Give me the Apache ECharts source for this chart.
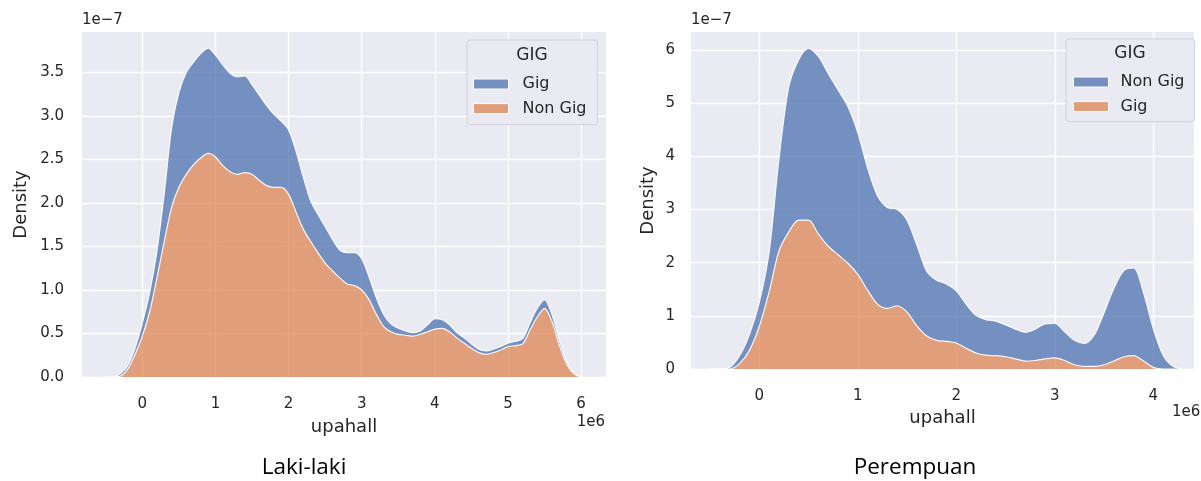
<!DOCTYPE html>
<html><head><meta charset="utf-8">
<script src="https://cdn.jsdelivr.net/npm/echarts@6/dist/echarts.min.js"></script>
<style>html,body{margin:0;padding:0;background:#fff;}#c{width:1201px;height:481px;}</style>
</head><body><div id="c"></div>
<script>
// ---- Data (x in units of 1e6, density in units of 1e-7) ----
// Left panel: Laki-laki
const xsL = [-0.5,-0.4,-0.3,-0.2,-0.1,0.0,0.1,0.2,0.3,0.4,0.5,0.6,0.7,0.8,0.9,1.0,1.1,1.2,1.3,1.4,1.5,1.6,1.7,1.8,1.9,2.0,2.1,2.2,2.3,2.4,2.5,2.6,2.7,2.8,2.9,3.0,3.1,3.2,3.3,3.4,3.5,3.6,3.7,3.8,3.9,4.0,4.1,4.2,4.3,4.4,4.5,4.6,4.7,4.8,4.9,5.0,5.1,5.2,5.3,5.4,5.5,5.6,5.7,5.8,5.9,6.0];
const nonGigL = [0,0,0.01,0.09,0.26,0.47,0.75,1.14,1.56,1.95,2.18,2.33,2.44,2.52,2.57,2.53,2.43,2.36,2.33,2.35,2.33,2.26,2.20,2.18,2.18,2.10,1.90,1.70,1.56,1.43,1.31,1.22,1.14,1.07,1.05,1.00,0.89,0.72,0.58,0.52,0.49,0.48,0.47,0.49,0.52,0.55,0.56,0.52,0.45,0.39,0.33,0.28,0.26,0.28,0.31,0.35,0.36,0.38,0.54,0.69,0.79,0.64,0.37,0.15,0.04,0];
const gigL = [0,0,0.03,0.04,0.07,0.15,0.22,0.31,0.55,0.91,1.09,1.17,1.18,1.20,1.21,1.17,1.16,1.13,1.12,1.11,1.03,0.98,0.92,0.84,0.76,0.74,0.70,0.60,0.47,0.44,0.42,0.36,0.32,0.36,0.38,0.36,0.26,0.19,0.14,0.09,0.07,0.05,0.04,0.04,0.08,0.12,0.10,0.08,0.06,0.06,0.05,0.04,0.04,0.04,0.04,0.04,0.05,0.06,0.08,0.10,0.10,0.08,0.06,0.03,0.01,0];
// Right panel: Perempuan
const xsR = [-0.5,-0.4,-0.3,-0.2,-0.1,0.0,0.1,0.2,0.3,0.4,0.5,0.6,0.7,0.8,0.9,1.0,1.1,1.2,1.3,1.4,1.5,1.6,1.7,1.8,1.9,2.0,2.1,2.2,2.3,2.4,2.5,2.6,2.7,2.8,2.9,3.0,3.1,3.2,3.3,3.4,3.5,3.6,3.7,3.8,3.9,4.0,4.1,4.2,4.3];
const gigR = [0,0,0,0.10,0.35,0.80,1.45,2.22,2.58,2.80,2.80,2.54,2.31,2.15,1.99,1.78,1.48,1.22,1.14,1.19,1.07,0.81,0.62,0.54,0.52,0.49,0.39,0.30,0.26,0.25,0.23,0.19,0.15,0.16,0.19,0.21,0.16,0.08,0.05,0.05,0.08,0.15,0.23,0.25,0.15,0.03,0,0,0];
const nonGigR = [0,0,0.03,0.15,0.30,0.45,0.75,1.73,2.73,3.02,3.23,3.34,3.25,3.10,2.95,2.67,2.30,2.04,1.90,1.81,1.73,1.52,1.22,1.13,1.08,0.98,0.83,0.71,0.67,0.65,0.60,0.56,0.54,0.59,0.66,0.65,0.54,0.46,0.43,0.59,0.98,1.37,1.62,1.65,1.29,0.73,0.26,0.05,0];
// Tick labels
const xTicksL = [0,1,2,3,4,5,6];
const yTicksL = [0,0.5,1,1.5,2,2.5,3,3.5];
const xTicksR = [0,1,2,3,4];
const yTicksR = [0,1,2,3,4,5,6];

const chart = echarts.init(document.getElementById('c'));
const FONT = 'DejaVu Sans';
const TXT = '#262626';
const BLUE = '#4c72b0', ORANGE = '#dd8452';
const BLUE_SOLID = '#7390c0', ORANGE_SOLID = '#e09e7a';
// rows are [density, x] so that the density column is the one ECharts stacks
const rows = (xs, ys) => xs.map((x, i) => [ys[i], x]);

function xAx(gi, min, max, ticks, gap) {
  return {type:'value', gridIndex:gi, min, max, name:'upahall', nameLocation:'middle', nameGap:gap,
    nameTextStyle:{fontFamily:FONT, fontSize:18, color:TXT},
    axisLine:{show:false}, axisTick:{show:false, customValues:ticks},
    axisLabel:{customValues:ticks, fontFamily:FONT, fontSize:15, color:TXT, margin:20, formatter:v=>String(v)},
    splitLine:{show:true, lineStyle:{color:'#ffffff', width:1.3}}};
}
function yAx(gi, max, ticks, gap, margin, fmt) {
  return {type:'value', gridIndex:gi, min:0, max, name:'Density', nameLocation:'middle', nameGap:gap,
    nameTextStyle:{fontFamily:FONT, fontSize:18, color:TXT},
    axisLine:{show:false}, axisTick:{show:false, customValues:ticks},
    axisLabel:{customValues:ticks, fontFamily:FONT, fontSize:15, color:TXT, margin, formatter:fmt},
    splitLine:{show:true, lineStyle:{color:'#ffffff', width:1.3}}};
}
function ser(name, gi, stack, data, color) {
  return {type:'line', name, xAxisIndex:gi, yAxisIndex:gi, stack, data, encode:{x:1, y:0},
    smooth:0.3, showSymbol:false, silent:true,
    itemStyle:{color}, lineStyle:{color:'rgba(255,255,255,0.9)', width:1.2},
    areaStyle:{color, opacity:0.75}};
}
function leg(left, top, pad, textPad, items) {
  return {left, top, orient:'vertical', icon:'rect', itemWidth:35, itemHeight:10, itemGap:8.6,
    padding:pad, backgroundColor:'#eaeaf2', borderColor:'#d2d2da', borderWidth:1, borderRadius:3,
    selectedMode:false,
    textStyle:{fontFamily:FONT, fontSize:16, color:TXT, lineHeight:16, padding:[0,0,0,textPad]},
    data:items};
}
const txt = (x, y, text, size, align, fam, color) => ({type:'text', x, y, z:100,
  style:{text, fontSize:size, fontFamily:fam || FONT, fill:color || TXT, align, verticalAlign:'middle'}});

chart.setOption({
  animation:false,
  grid:[
    {left:82, top:32, width:524, height:345, show:true, backgroundColor:'#eaeaf2', borderWidth:0},
    {left:691, top:32, width:503, height:337, show:true, backgroundColor:'#eaeaf2', borderWidth:0}
  ],
  xAxis:[xAx(0, -0.825, 6.34, xTicksL, 41), xAx(1, -0.693, 4.413, xTicksR, 39)],
  yAxis:[yAx(0, 3.966, yTicksL, 52, 18, v=>v.toFixed(1)), yAx(1, 6.34, yTicksR, 34, 16, v=>String(v))],
  legend:[
    leg(467, 40, [36,11,8,6], 9, [
      {name:'Gig', itemStyle:{color:BLUE_SOLID, borderColor:'#fff', borderWidth:1}},
      {name:'Non Gig', itemStyle:{color:ORANGE_SOLID, borderColor:'#fff', borderWidth:1}}]),
    leg(1066, 39, [35,10,7,7], 7, [
      {name:'Non Gig', itemStyle:{color:BLUE_SOLID, borderColor:'#fff', borderWidth:1}},
      {name:'Gig', itemStyle:{color:ORANGE_SOLID, borderColor:'#fff', borderWidth:1}}])
  ],
  series:[
    ser('Non Gig', 0, 'L', rows(xsL, nonGigL), ORANGE),
    ser('Gig', 0, 'L', rows(xsL, gigL), BLUE),
    ser('Gig', 1, 'R', rows(xsR, gigR), ORANGE),
    ser('Non Gig', 1, 'R', rows(xsR, nonGigR), BLUE)
  ],
  graphic:[
    txt(532, 56, 'GIG', 17, 'center'),
    txt(1130, 54, 'GIG', 17, 'center'),
    txt(82, 20, '1e\u22127', 15, 'left'),
    txt(691, 20, '1e\u22127', 15, 'left'),
    txt(605, 422, '1e6', 15, 'right'),
    txt(1172, 412, '1e6', 15, 'left'),
    txt(304, 468, 'Laki-laki', 22.5, 'center', 'Open Sans', '#000'),
    txt(915, 468, 'Perempuan', 22.5, 'center', 'Open Sans', '#000')
  ]
});
</script></body></html>
